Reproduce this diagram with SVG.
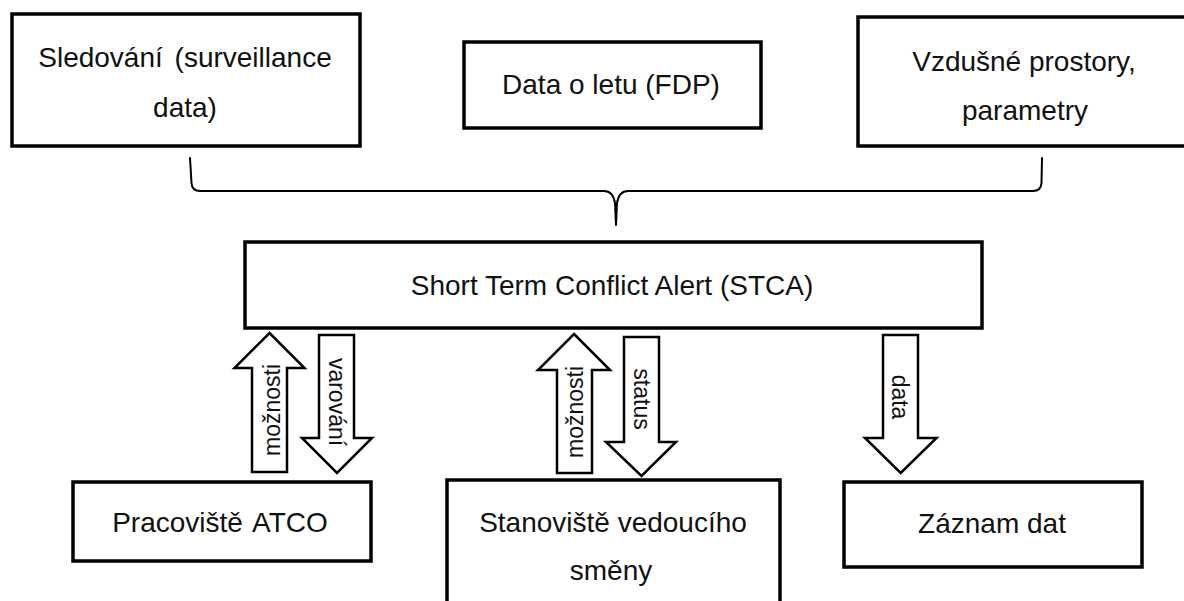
<svg xmlns="http://www.w3.org/2000/svg" width="1184" height="601" viewBox="0 0 1184 601">
  <style>
    .box { fill: #ffffff; stroke: #000000; stroke-width: 3.5; }
    .lbl { font-family: "Liberation Sans", Arial, sans-serif; font-size: 28px; fill: #111111; text-anchor: middle; }
    .arrow { fill: #ffffff; stroke: #000000; stroke-width: 2.5; stroke-linejoin: miter; }
    .alab { font-family: "Liberation Sans", Arial, sans-serif; font-size: 23px; fill: #111111; text-anchor: middle; }
    .brace { fill: none; stroke: #000000; stroke-width: 2; stroke-linecap: round; stroke-linejoin: round; }
  </style>

  <rect width="1184" height="601" fill="#ffffff"/>

  <!-- input sources -->
  <g id="surveillance">
    <rect class="box" x="12" y="14" width="348" height="132"/>
    <text class="lbl" x="185" y="67" word-spacing="4">Sledování (surveillance</text>
    <text class="lbl" x="185" y="117">data)</text>
  </g>

  <g id="fdp">
    <rect class="box" x="464" y="42" width="297" height="86"/>
    <text class="lbl" x="611" y="94">Data o letu (FDP)</text>
  </g>

  <g id="airspace">
    <!-- right side runs past the page edge -->
    <rect class="box" x="858" y="17" width="336" height="129"/>
    <text class="lbl" x="1024" y="71">Vzdušné prostory,</text>
    <text class="lbl" x="1025" y="120">parametry</text>
  </g>

  <!-- central function -->
  <g id="stca">
    <rect class="box" x="245" y="242" width="737" height="86"/>
    <text class="lbl" x="612" y="295">Short Term Conflict Alert (STCA)</text>
  </g>

  <!-- outputs / positions -->
  <g id="atco">
    <rect class="box" x="73" y="482" width="298" height="79"/>
    <text class="lbl" x="220" y="532" word-spacing="3">Pracoviště ATCO</text>
  </g>

  <g id="supervisor">
    <rect class="box" x="447" y="480" width="333" height="130"/>
    <text class="lbl" x="613" y="532">Stanoviště vedoucího</text>
    <text class="lbl" x="611" y="580">směny</text>
  </g>

  <g id="recording">
    <rect class="box" x="844" y="482" width="298" height="85"/>
    <text class="lbl" x="992" y="533">Záznam dat</text>
  </g>

  <!-- connectors: brace gathering inputs, block arrows to/from STCA -->
  <g id="connectors">
    <path class="brace" d="M190,158 L191.5,183 Q192,191 200,191 L604,191 Q613,191 615,203 L616,225 M616,225 L617,203 Q619,191 628,191 L1033,191 Q1041,191 1041.5,183 L1042,158"/>

    <polygon class="arrow" points="269.5,333 304.5,368 287,368 287,472 252,472 252,368 234.5,368"/>
    <text class="alab" transform="translate(280,410) rotate(-90)">možnosti</text>

    <polygon class="arrow" points="319,335 354,335 354,438 372,438 337,473 302,438 319,438"/>
    <text class="alab" transform="translate(329,402) rotate(90)">varování</text>

    <polygon class="arrow" points="574,334 610,370 592,370 592,473 557,473 557,370 538,370"/>
    <text class="alab" transform="translate(583,412) rotate(-90)">možnosti</text>

    <polygon class="arrow" points="624,337 659,337 659,442 676,442 641.5,476 606,442 624,442"/>
    <text class="alab" transform="translate(633.5,399) rotate(90)">status</text>

    <polygon class="arrow" points="883,335 918,335 918,438 936.5,438 900.7,473 865,438 883,438"/>
    <text class="alab" transform="translate(892,397) rotate(90)">data</text>
  </g>
</svg>
